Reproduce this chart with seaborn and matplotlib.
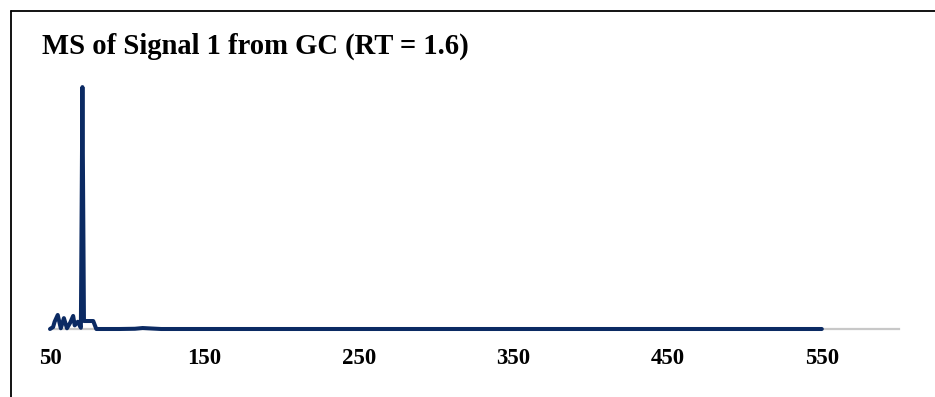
import matplotlib
matplotlib.use("Agg")
import matplotlib.pyplot as plt
from matplotlib.lines import Line2D
import seaborn as sns
import pandas as pd

# Mass spectrum of signal 1 (retention time 1.6), relative abundance in %
mz = [50, 52, 53, 55, 57, 59, 61, 63, 65, 66, 68, 70, 71, 72, 78, 80,
      95, 105, 110, 116, 122, 200, 300, 400, 500, 550]
abundance = [0.0, 0.8, 3.0, 5.8, 0.3, 4.5, 0.3, 2.5, 5.4, 1.5, 3.0, 0.5, 100.0, 3.3, 3.3, 0.0,
             0.0, 0.1, 0.4, 0.2, 0.0, 0.0, 0.0, 0.0, 0.0, 0.0]
tick_values = [50, 150, 250, 350, 450, 550]
title = "MS of Signal 1 from GC (RT = 1.6)"

sns.set_style("white")
plt.rcParams["font.family"] = ["Liberation Serif", "DejaVu Serif"]
plt.rcParams["text.color"] = "black"
plt.rcParams["xtick.color"] = "black"

df = pd.DataFrame({"mz": mz, "abundance": abundance})

fig = plt.figure(figsize=(9.35, 3.97), dpi=100)
ax = fig.add_axes([50 / 935, (397 - 329) / 397, 849 / 935, 254 / 397])

sns.lineplot(data=df, x="mz", y="abundance", ax=ax, color="#0B2A63",
             linewidth=2.9, solid_joinstyle="round", solid_capstyle="round",
             zorder=3, clip_on=False)

ax.set_xlim(50, 600)
ax.set_ylim(0, 105)
ax.set_xticks(tick_values)
ax.set_xticklabels([str(t) for t in tick_values], fontsize=16.5, fontweight="bold",
                   color="black")
ax.tick_params(axis="x", length=0, pad=14)
ax.set_yticks([])
ax.set_xlabel("")
ax.set_ylabel("")
for side in ["top", "right", "left"]:
    ax.spines[side].set_visible(False)
ax.spines["bottom"].set_color("#C8C8C8")
ax.spines["bottom"].set_linewidth(1.6)
ax.spines["bottom"].set_zorder(1)

fig.text(42 / 935, 1 - 54 / 397, title, fontsize=20.6, fontweight="bold",
         color="black", ha="left", va="baseline")

# outer frame (top and left edges)
fig.add_artist(Line2D([10.5 / 935, 1.0], [1 - 10.5 / 397, 1 - 10.5 / 397],
                      transform=fig.transFigure, color="black", linewidth=1.3))
fig.add_artist(Line2D([10.5 / 935, 10.5 / 935], [0.0, 1 - 10.5 / 397],
                      transform=fig.transFigure, color="black", linewidth=1.3))

fig.savefig("out.png", dpi=100, facecolor="white")
